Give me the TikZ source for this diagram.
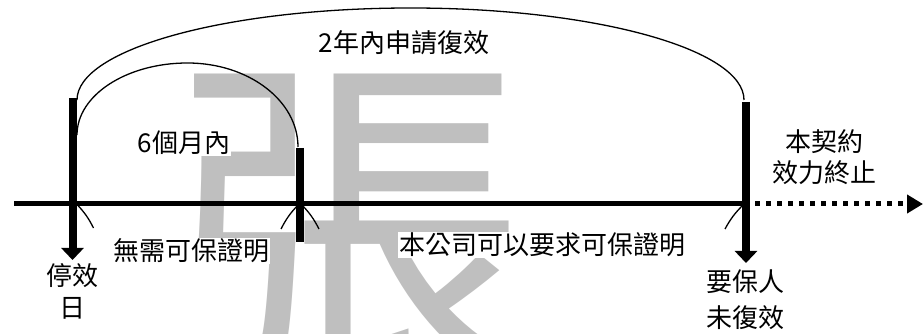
\documentclass[tikz,border=0pt]{standalone}
\usepackage{fontspec}
\setmainfont{Noto Sans CJK TC}
\usetikzlibrary{arrows.meta}
\definecolor{wm}{RGB}{191,191,191}
\begin{document}
\begin{tikzpicture}[x=1pt,y=1pt,
  lbl/.style={font=\fontsize{26}{32}\selectfont, fill=white, inner sep=1pt, align=center},
  bar/.style={line width=8pt},
  axisline/.style={line width=5pt},
  arcline/.style={line width=1.3pt},
  downtip/.style={-{Triangle[width=22pt,length=12pt]}},
  dotline/.style={line width=5pt, dash pattern=on 5pt off 6pt, -{Triangle[width=18pt,length=16pt]}}]
\useasboundingbox (0,0) rectangle (923,334);
% watermark
\begin{scope}
\clip (0,0) rectangle (923,334);
\node[anchor=north, inner sep=0pt, text=wm, font=\fontsize{355}{355}\selectfont] (wmark) at (349.5,260) {張};
\end{scope}
% coordinates
\coordinate (Ltop) at (72.5,236); \coordinate (Lbot) at (72.5,74);
\coordinate (Mtop) at (300,186);  \coordinate (Mbot) at (300,92);
\coordinate (Rtop) at (746,232);  \coordinate (Rbot) at (746,71);
\coordinate (A0) at (14,130);     \coordinate (A1) at (746,130);
\coordinate (D0) at (755,130);    \coordinate (D1) at (923,130);
\coordinate (O0) at (77,234);
\coordinate (I0) at (77,199);
\coordinate (sL0) at (77.5,129);  \coordinate (sL1) at (93.5,106);
\coordinate (sM0) at (298,129);   \coordinate (sM1) at (281,105);
\coordinate (sN0) at (302,129);   \coordinate (sN1) at (319,105);
\coordinate (sR0) at (743,129);   \coordinate (sR1) at (725,105);
% axis
\draw[axisline] (A0) -- (A1);
\draw[dotline] (D0) -- (D1);
% bars
\draw[bar, downtip] (Ltop) -- (Lbot);
\draw[bar] (Mtop) -- (Mbot);
\draw[bar, downtip] (Rtop) -- (Rbot);
% arcs
\draw[arcline] (O0) arc[start angle=180, end angle=0, x radius=333.5pt, y radius=92pt];
\draw[arcline] (I0) arc[start angle=180, end angle=90, x radius=110.5pt, y radius=72pt]
                    arc[start angle=90, end angle=0, x radius=110.5pt, y radius=84pt];
% small curves below axis
\draw[arcline] (sL0) to[bend left=8] (sL1);
\draw[arcline] (sM0) to[bend right=8] (sM1);
\draw[arcline] (sN0) to[bend left=8] (sN1);
\draw[arcline] (sR0) to[bend right=8] (sR1);
% labels
\node[lbl] (t2y) at (404,291) {2年內申請復效};
\node[lbl] (t6m) at (184,191) {6個月內};
\node[lbl] (tno) at (191,83) {無需可保證明};
\node[lbl] (tco) at (542,89) {本公司可以要求可保證明};
\node[lbl] (tstop) at (72,43) {停效\\日};
\node[lbl, font=\fontsize{26}{36}\selectfont] (tnot) at (745.5,34) {要保人\\未復效};
\node[lbl, font=\fontsize{26}{31.5}\selectfont] (tend) at (824.5,177) {本契約\\效力終止};
\end{tikzpicture}
\end{document}
